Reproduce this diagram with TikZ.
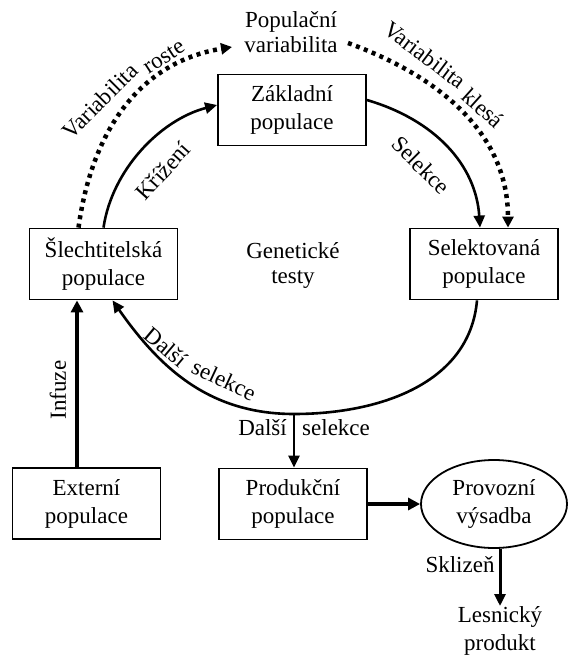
\documentclass[tikz,border=0pt]{standalone}
\usepackage{fontspec}
\setmainfont{Liberation Serif}
\usetikzlibrary{arrows.meta,shapes.geometric}
\tikzset{
  every node/.style={font=\fontsize{23}{28}\selectfont},
  box/.style={draw,line width=1.8pt,minimum width=148pt,minimum height=71pt,align=center,inner sep=0pt},
  ell/.style={draw,ellipse,line width=1.8pt,minimum width=146pt,minimum height=88pt,align=center,inner sep=0pt},
  lab/.style={inner sep=0pt},
  arr/.style={line width=2.6pt,-{Triangle[length=12pt,width=11pt]}},
  thickarr/.style={line width=4.5pt,-{Triangle[length=12pt,width=12pt]}},
  dotarr/.style={line width=4.5pt,dash pattern=on 4pt off 4.5pt,-{Triangle[length=11pt,width=11pt]}}
}
\begin{document}
\begin{tikzpicture}[x=1pt,y=1pt]
\useasboundingbox (0,0) rectangle (569,-655);
% boxes
\node[box] (zak) at (292,-110) {Základní\\populace};
\node[box] (sle) at (103.5,-264) {Šlechtitelská\\populace};
\node[box] (sel) at (484,-264) {Selektovaná\\populace};
\node[box] (ext) at (86.5,-503.5) {Externí\\populace};
\node[box] (pro) at (293,-504) {Produkční\\populace};
\node[ell] (prov) at (494,-504) {Provozní\\výsadba};
\node[lab,align=center,anchor=north] (les) at (500,-606) {Lesnický\\produkt};
% plain labels
\node[lab,anchor=base] (pop1) at (291,-28) {Populační};
\node[lab,anchor=base] (pop2) at (291,-53) {variabilita};
\node[lab,anchor=base] (gen1) at (293,-258) {Genetické};
\node[lab,anchor=base] (gen2) at (293,-283) {testy};
\node[lab,rotate=90] (inf) at (58,-390) {Infuze};
\node[lab,anchor=base east] (dal1) at (287,-435) {Další};
\node[lab,anchor=base west] (dal2) at (302,-435) {selekce};
\node[lab,anchor=base] (skl) at (460,-572) {Sklizeň};
% rotated labels
\node[lab,rotate=45] (vr1) at (100,-101) {Variabilita};
\node[lab,rotate=33] (vr2) at (164,-57) {roste};
\node[lab,rotate=-37] (vk1) at (425,-55) {Variabilita};
\node[lab,rotate=-42] (vk2) at (483,-108) {klesá};
\node[lab,rotate=48] (kri) at (163,-171) {Křížení};
\node[lab,rotate=-45] (selk) at (421,-165) {Selekce};
\node[lab,rotate=-40] (ds1) at (166,-347) {Další};
\node[lab,rotate=-25] (ds2) at (224,-380) {selekce};
% coordinates
\coordinate (arcbot) at (294,-414);
\coordinate (tipL) at (232,-47);
\coordinate (startR) at (348,-43);
% solid cycle
\draw[arr] (sle.north) .. controls (112,-170) and (160,-120) .. ([yshift=5pt]zak.west);
\draw[arr] ([yshift=10pt]zak.east) .. controls (435,-120) and (476,-165) .. ([xshift=-4pt]sel.north);
\draw[arr] ([xshift=-7pt]sel.south) to[out=-95,in=0] (arcbot) to[out=180,in=-55] ([xshift=9pt]sle.south);
% dotted
\draw[dotarr] ([xshift=-25pt]sle.north) .. controls (92,-130) and (140,-62) .. (tipL);
\draw[dotarr] (startR) to[out=-20,in=90] ([xshift=24pt]sel.north);
% straight arrows
\draw[thickarr] ([xshift=-9.5pt]ext.north) -- ([xshift=-9.5pt]ext.north |- sle.south);
\draw[arr] (arcbot) -- (arcbot |- pro.north);
\draw[thickarr] (pro.east) -- (prov.west);
\draw[arr,line width=3pt] ([xshift=6pt]prov.south) -- ([xshift=6pt]prov.south |- les.north);
\end{tikzpicture}
\end{document}
